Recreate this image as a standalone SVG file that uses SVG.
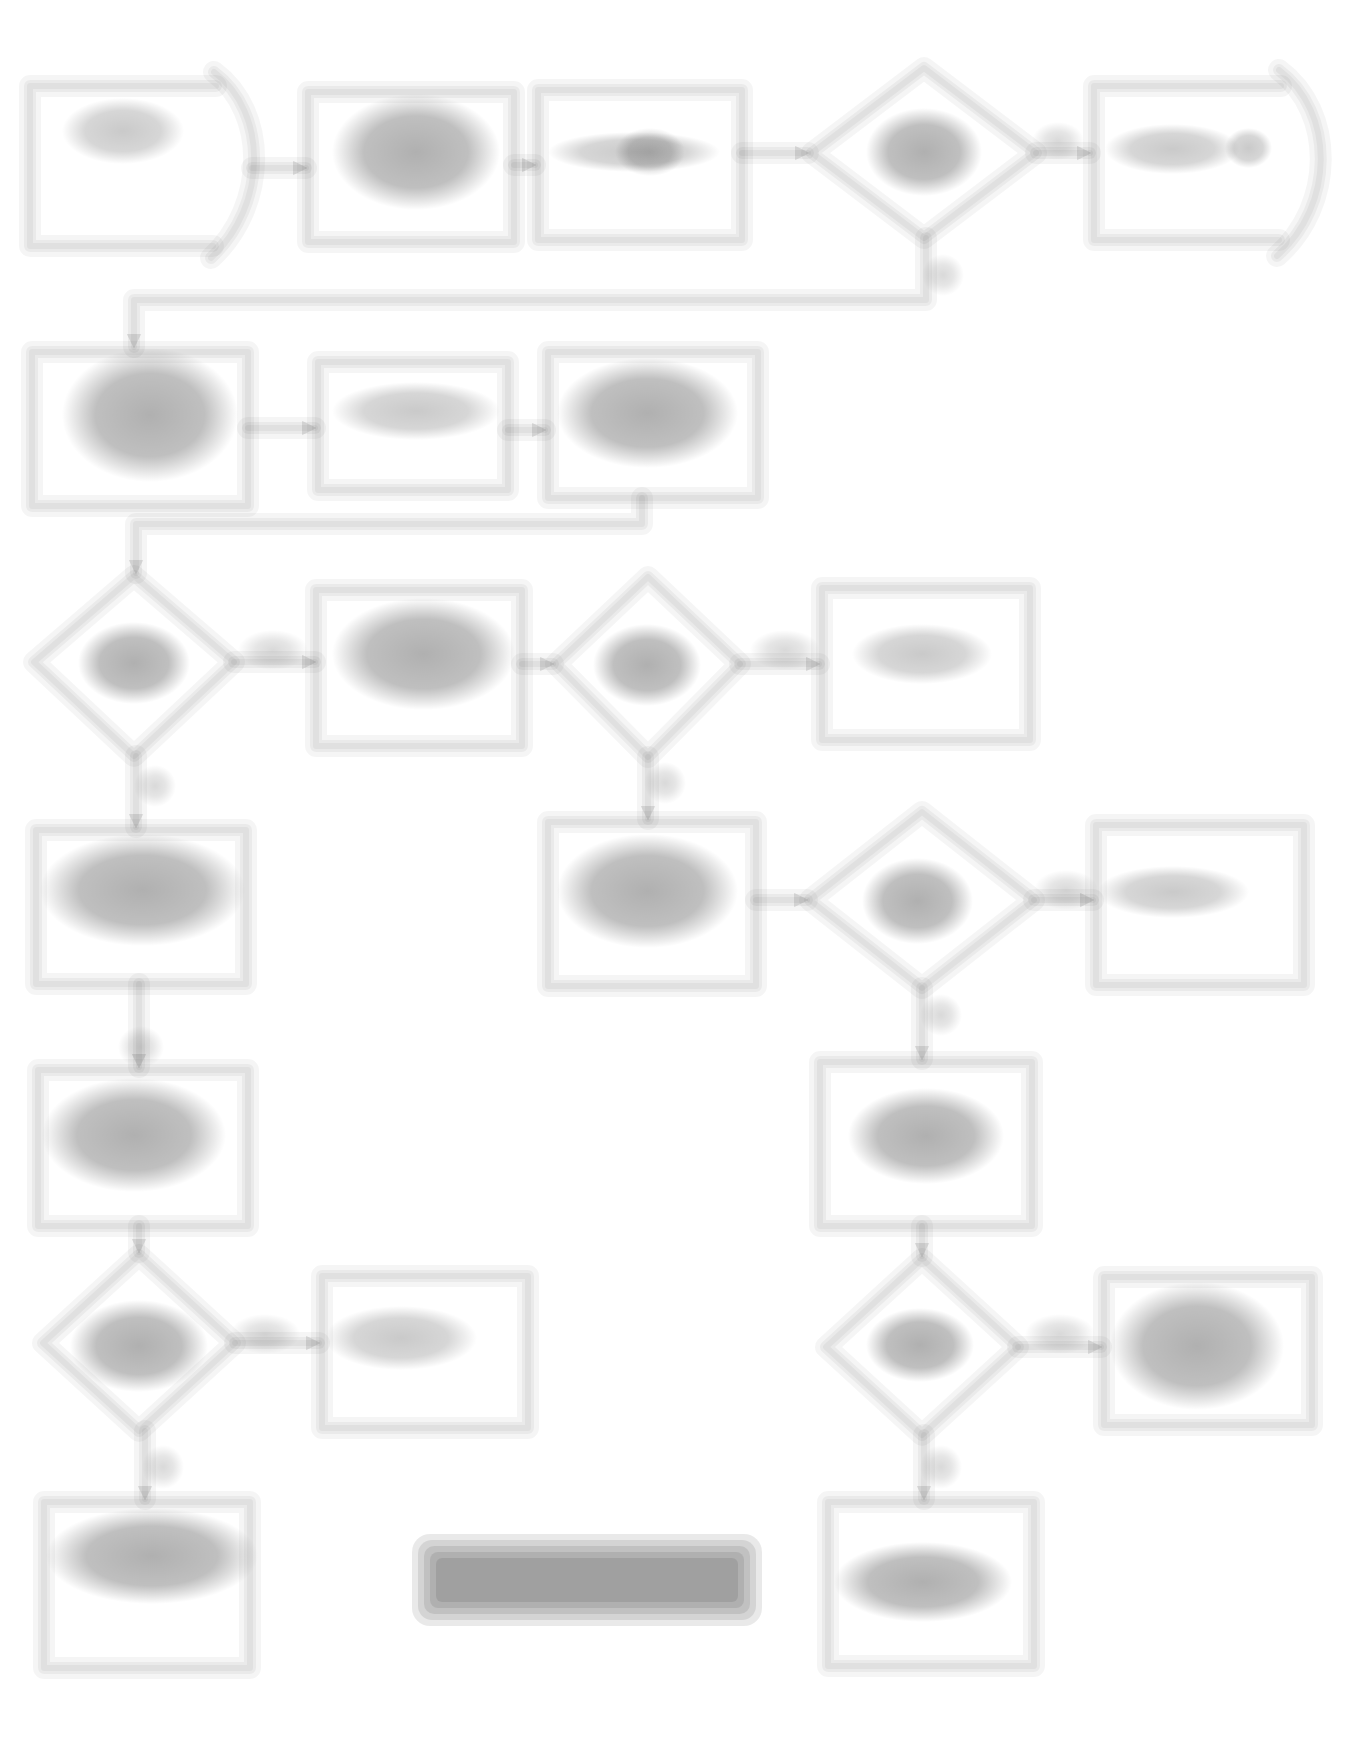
<svg xmlns="http://www.w3.org/2000/svg" width="1363" height="1740" viewBox="0 0 1363 1740">
<defs>
<radialGradient id="gtx"><stop offset="0" stop-color="#000" stop-opacity="0.31"/><stop offset="0.62" stop-color="#000" stop-opacity="0.25"/><stop offset="1" stop-color="#000" stop-opacity="0"/></radialGradient>
<radialGradient id="gtxl"><stop offset="0" stop-color="#000" stop-opacity="0.21"/><stop offset="0.62" stop-color="#000" stop-opacity="0.16"/><stop offset="1" stop-color="#000" stop-opacity="0"/></radialGradient>
<radialGradient id="glbl"><stop offset="0" stop-color="#000" stop-opacity="0.15"/><stop offset="0.5" stop-color="#000" stop-opacity="0.1"/><stop offset="1" stop-color="#000" stop-opacity="0"/></radialGradient>
<marker id="arr" viewBox="0 0 10 10" refX="9" refY="5" markerWidth="2.5" markerHeight="2.5" orient="auto"><path d="M0,0 L10,5 L0,10 z" fill="#000" fill-opacity="0.1"/></marker>
</defs>
<style>
.w1{stroke:#000;stroke-opacity:0.04;stroke-width:22;stroke-linejoin:round;stroke-linecap:round}
.w2{stroke:#000;stroke-opacity:0.045;stroke-width:12;stroke-linejoin:round;stroke-linecap:round}
.w3{stroke:#000;stroke-opacity:0.04;stroke-width:6;stroke-linejoin:round;stroke-linecap:round}
.arrows{marker-end:url(#arr)}
.tx{fill:url(#gtx)}
.txl{fill:url(#gtxl)}
.lbl{fill:url(#glbl)}
.nt{fill:#000;fill-opacity:0.085}
</style>
<rect width="1363" height="1740" fill="#fff"/>
<g id="connectors">
<g id="cp" fill="none">
<path d="M252,168 H306"/>
<path d="M514,165 H535"/>
<path d="M742,153 H808"/>
<path d="M1036,153 H1090"/>
<path d="M926,238 V300 H134 V347"/>
<path d="M248,428 H315"/>
<path d="M508,430 H545"/>
<path d="M642,498 V524 H136 V573"/>
<path d="M234,662 H315"/>
<path d="M522,664 H553"/>
<path d="M740,664 H819"/>
<path d="M648,757 V819"/>
<path d="M136,756 V827"/>
<path d="M756,900 H807"/>
<path d="M1034,900 H1093"/>
<path d="M922,988 V1059"/>
<path d="M139,984 V1067"/>
<path d="M139,1226 V1252"/>
<path d="M235,1343 H319"/>
<path d="M922,1226 V1256"/>
<path d="M1018,1347 H1101"/>
<path d="M145,1431 V1499"/>
<path d="M924,1435 V1499"/>
</g>
<use href="#cp" class="w1"/><use href="#cp" class="w2"/><use href="#cp" class="w3 arrows"/>
</g>
<g id="labels">
<rect class="lbl" x="1032" y="122" width="52" height="38"/>
<rect class="lbl" x="922" y="254" width="42" height="42"/>
<rect class="lbl" x="238" y="630" width="70" height="40"/>
<rect class="lbl" x="750" y="630" width="70" height="40"/>
<rect class="lbl" x="644" y="762" width="42" height="42"/>
<rect class="lbl" x="134" y="765" width="42" height="42"/>
<rect class="lbl" x="1034" y="870" width="64" height="40"/>
<rect class="lbl" x="920" y="994" width="42" height="42"/>
<rect class="lbl" x="118" y="1026" width="46" height="42"/>
<rect class="lbl" x="230" y="1314" width="70" height="40"/>
<rect class="lbl" x="1025" y="1314" width="70" height="40"/>
<rect class="lbl" x="142" y="1445" width="42" height="44"/>
<rect class="lbl" x="920" y="1445" width="42" height="44"/>
</g>
<g id="nA"><g id="sA" fill="none"><path d="M216,86 H30 V246 H213"/><path d="M214,72 C268,112 268,205 211,258"/></g><use href="#sA" class="w1"/><use href="#sA" class="w2"/><use href="#sA" class="w3"/><rect class="txl" x="62" y="98" width="122" height="66"/></g>
<g id="nB"><g id="sB" fill="none"><rect x="308" y="92" width="206" height="150"/></g><use href="#sB" class="w1"/><use href="#sB" class="w2"/><use href="#sB" class="w3"/><rect class="tx" x="332" y="94" width="168" height="116"/></g>
<g id="nC"><g id="sC" fill="none"><rect x="538" y="90" width="204" height="150"/></g><use href="#sC" class="w1"/><use href="#sC" class="w2"/><use href="#sC" class="w3"/><rect class="txl" x="548" y="132" width="172" height="40"/><rect class="txl" x="615" y="128" width="70" height="48"/></g>
<g id="nD1"><g id="sD1" fill="none"><polygon points="924,68 1036,153 924,238 812,153"/></g><use href="#sD1" class="w1"/><use href="#sD1" class="w2"/><use href="#sD1" class="w3"/><rect class="tx" x="866" y="108" width="116" height="88"/></g>
<g id="nE"><g id="sE" fill="none"><path d="M1281,86 H1094 V240 H1279"/><path d="M1279,70 C1335,112 1335,205 1277,256"/></g><use href="#sE" class="w1"/><use href="#sE" class="w2"/><use href="#sE" class="w3"/><rect class="txl" x="1105" y="124" width="135" height="50"/><rect class="txl" x="1225" y="128" width="47" height="40"/></g>
<g id="nF"><g id="sF" fill="none"><rect x="32" y="352" width="216" height="154"/></g><use href="#sF" class="w1"/><use href="#sF" class="w2"/><use href="#sF" class="w3"/><rect class="tx" x="62" y="348" width="176" height="134"/></g>
<g id="nG"><g id="sG" fill="none"><rect x="318" y="362" width="190" height="128"/></g><use href="#sG" class="w1"/><use href="#sG" class="w2"/><use href="#sG" class="w3"/><rect class="txl" x="332" y="382" width="168" height="58"/></g>
<g id="nH"><g id="sH" fill="none"><rect x="548" y="352" width="210" height="146"/></g><use href="#sH" class="w1"/><use href="#sH" class="w2"/><use href="#sH" class="w3"/><rect class="tx" x="557" y="358" width="181" height="110"/></g>
<g id="nD2"><g id="sD2" fill="none"><polygon points="134,576 234,662 134,756 34,662"/></g><use href="#sD2" class="w1"/><use href="#sD2" class="w2"/><use href="#sD2" class="w3"/><rect class="tx" x="78" y="622" width="112" height="82"/></g>
<g id="nI"><g id="sI" fill="none"><rect x="316" y="590" width="206" height="156"/></g><use href="#sI" class="w1"/><use href="#sI" class="w2"/><use href="#sI" class="w3"/><rect class="tx" x="332" y="598" width="183" height="112"/></g>
<g id="nD3"><g id="sD3" fill="none"><polygon points="648,577 740,664 648,757 556,664"/></g><use href="#sD3" class="w1"/><use href="#sD3" class="w2"/><use href="#sD3" class="w3"/><rect class="tx" x="593" y="624" width="108" height="82"/></g>
<g id="nJ"><g id="sJ" fill="none"><rect x="822" y="588" width="208" height="152"/></g><use href="#sJ" class="w1"/><use href="#sJ" class="w2"/><use href="#sJ" class="w3"/><rect class="txl" x="852" y="624" width="140" height="60"/></g>
<g id="nK"><g id="sK" fill="none"><rect x="36" y="830" width="210" height="154"/></g><use href="#sK" class="w1"/><use href="#sK" class="w2"/><use href="#sK" class="w3"/><rect class="tx" x="40" y="834" width="205" height="112"/></g>
<g id="nL"><g id="sL" fill="none"><rect x="548" y="822" width="208" height="164"/></g><use href="#sL" class="w1"/><use href="#sL" class="w2"/><use href="#sL" class="w3"/><rect class="tx" x="557" y="834" width="181" height="114"/></g>
<g id="nD4"><g id="sD4" fill="none"><polygon points="922,812 1034,900 922,988 810,900"/></g><use href="#sD4" class="w1"/><use href="#sD4" class="w2"/><use href="#sD4" class="w3"/><rect class="tx" x="862" y="858" width="111" height="86"/></g>
<g id="nM"><g id="sM" fill="none"><rect x="1096" y="825" width="208" height="160"/></g><use href="#sM" class="w1"/><use href="#sM" class="w2"/><use href="#sM" class="w3"/><rect class="txl" x="1097" y="866" width="152" height="52"/></g>
<g id="nN"><g id="sN" fill="none"><rect x="38" y="1070" width="210" height="156"/></g><use href="#sN" class="w1"/><use href="#sN" class="w2"/><use href="#sN" class="w3"/><rect class="tx" x="42" y="1078" width="184" height="114"/></g>
<g id="nO"><g id="sO" fill="none"><rect x="820" y="1062" width="212" height="164"/></g><use href="#sO" class="w1"/><use href="#sO" class="w2"/><use href="#sO" class="w3"/><rect class="tx" x="848" y="1088" width="156" height="96"/></g>
<g id="nD5"><g id="sD5" fill="none"><polygon points="139,1255 235,1343 139,1431 43,1343"/></g><use href="#sD5" class="w1"/><use href="#sD5" class="w2"/><use href="#sD5" class="w3"/><rect class="tx" x="70" y="1300" width="138" height="92"/></g>
<g id="nP"><g id="sP" fill="none"><rect x="322" y="1276" width="206" height="152"/></g><use href="#sP" class="w1"/><use href="#sP" class="w2"/><use href="#sP" class="w3"/><rect class="txl" x="325" y="1306" width="152" height="64"/></g>
<g id="nD6"><g id="sD6" fill="none"><polygon points="922,1259 1018,1347 922,1435 826,1347"/></g><use href="#sD6" class="w1"/><use href="#sD6" class="w2"/><use href="#sD6" class="w3"/><rect class="tx" x="866" y="1308" width="108" height="74"/></g>
<g id="nQ"><g id="sQ" fill="none"><rect x="1104" y="1277" width="208" height="148"/></g><use href="#sQ" class="w1"/><use href="#sQ" class="w2"/><use href="#sQ" class="w3"/><rect class="tx" x="1110" y="1282" width="174" height="128"/></g>
<g id="nR"><g id="sR" fill="none"><rect x="44" y="1502" width="206" height="166"/></g><use href="#sR" class="w1"/><use href="#sR" class="w2"/><use href="#sR" class="w3"/><rect class="tx" x="46" y="1508" width="212" height="96"/></g>
<g id="nS"><g id="sS" fill="none"><rect x="828" y="1502" width="206" height="164"/></g><use href="#sS" class="w1"/><use href="#sS" class="w2"/><use href="#sS" class="w3"/><rect class="tx" x="834" y="1542" width="178" height="80"/></g>
<g id="note">
<rect class="nt" x="412" y="1534" width="350" height="92" rx="18"/>
<rect class="nt" x="418" y="1540" width="338" height="80" rx="14"/>
<rect class="nt" x="424" y="1546" width="326" height="68" rx="10"/>
<rect class="nt" x="430" y="1552" width="314" height="56" rx="8"/>
<rect class="nt" x="436" y="1558" width="302" height="44" rx="6"/>
</g>
</svg>
